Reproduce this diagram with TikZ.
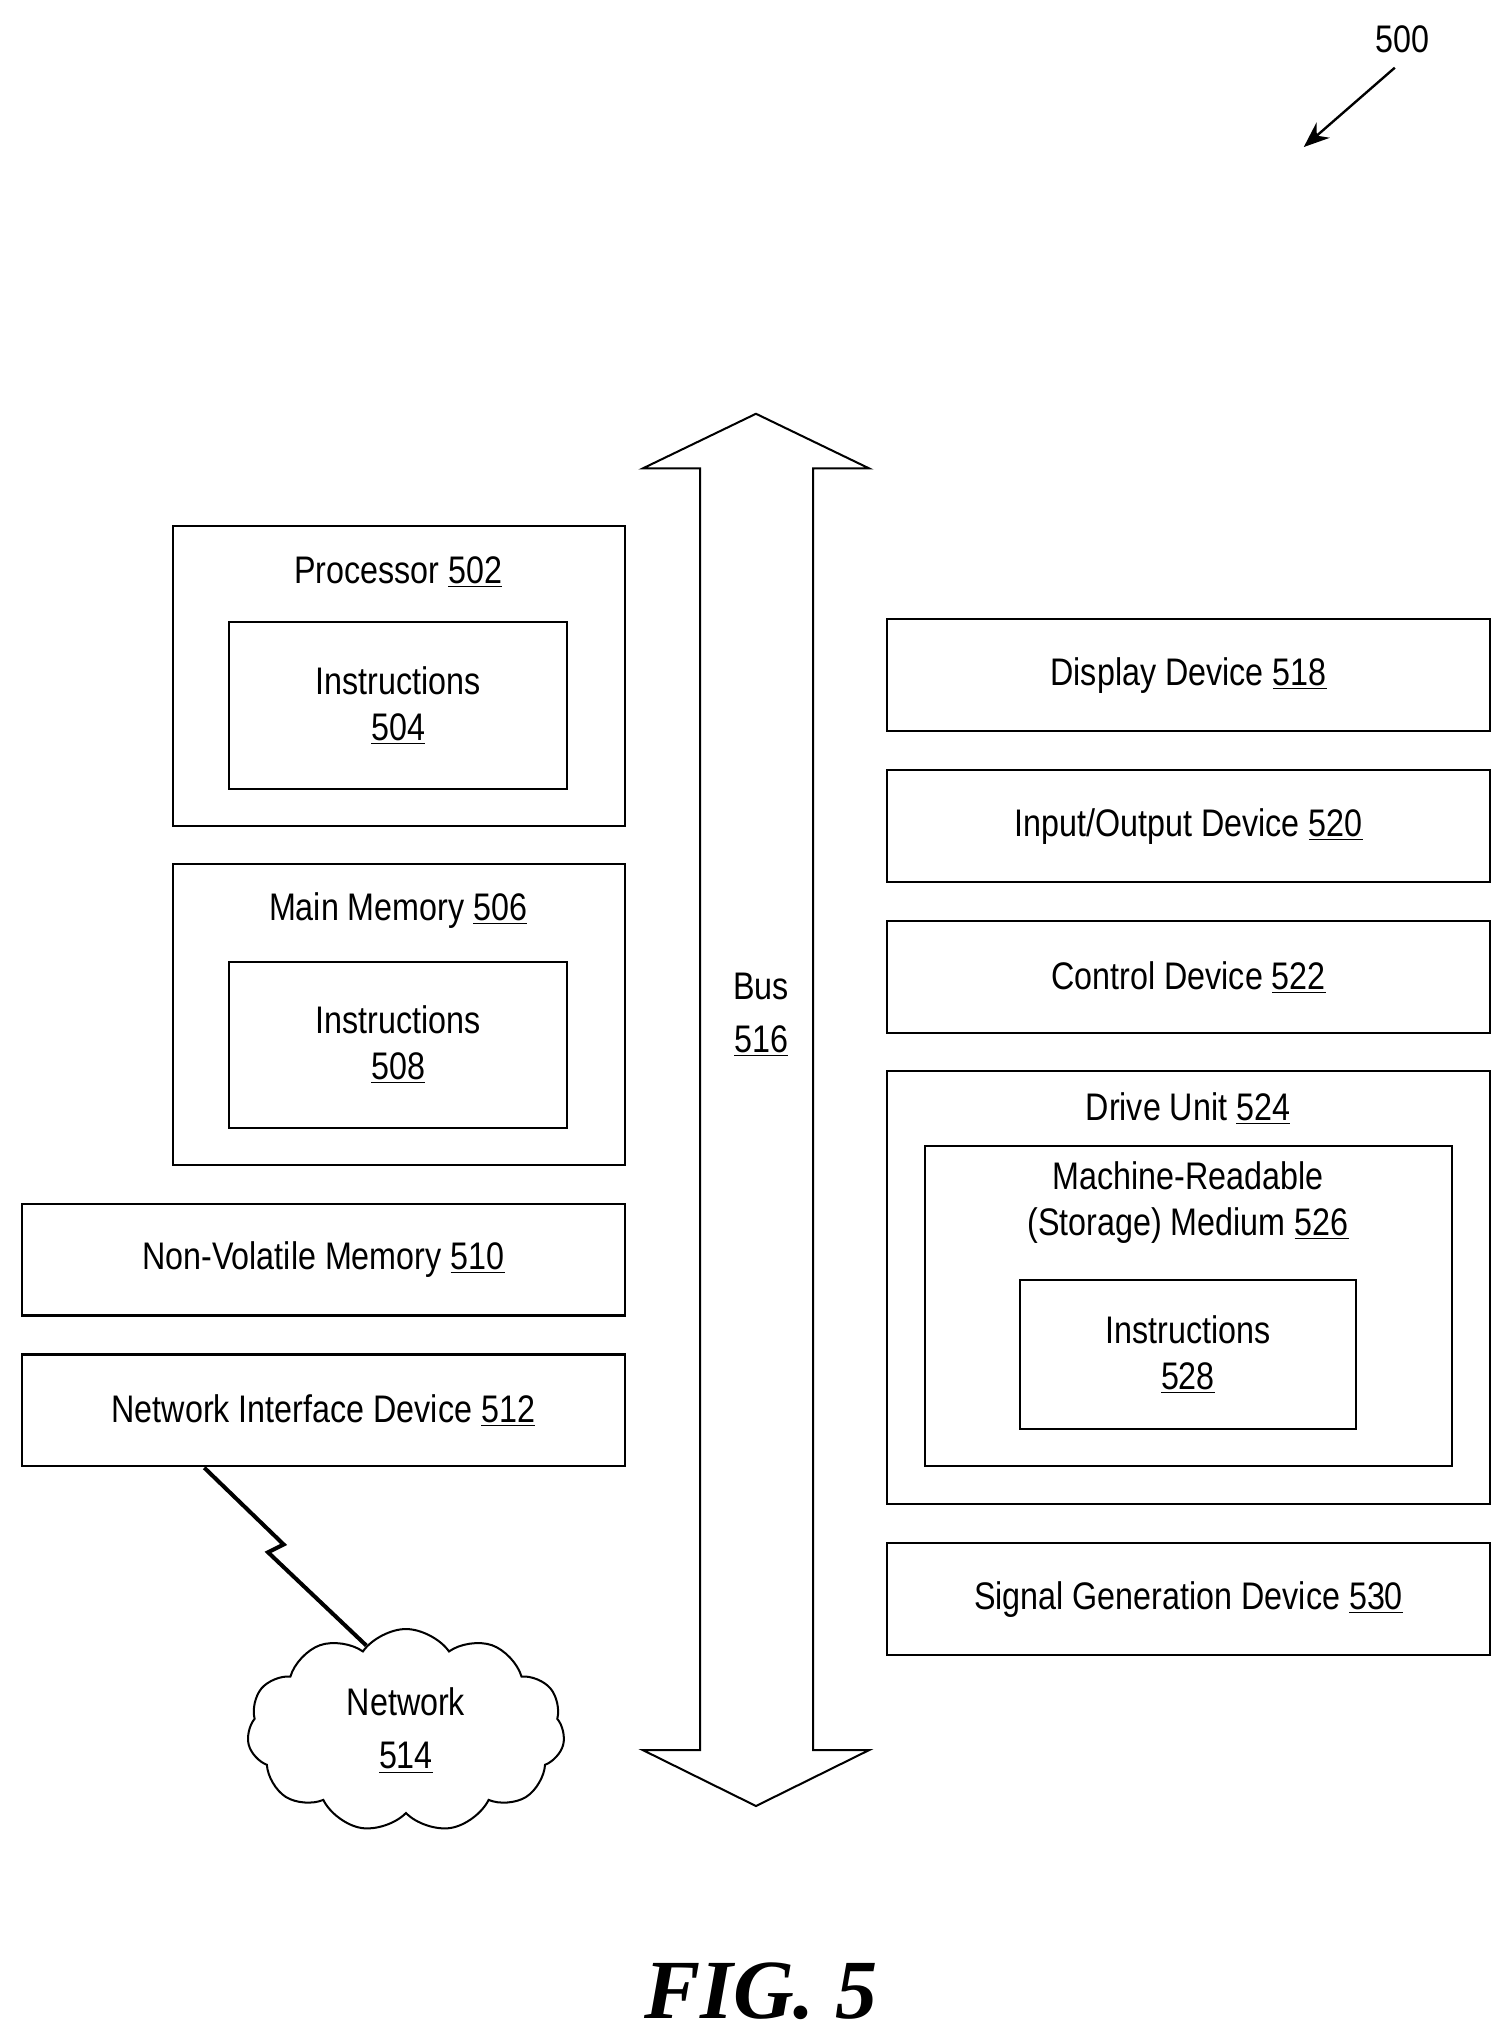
\documentclass[tikz,border=0pt]{standalone}
\usepackage{fontspec}
\setmainfont[FakeStretch=0.84]{Liberation Sans}
\newfontfamily\figfont{Liberation Serif}
\usetikzlibrary{shapes.symbols,arrows.meta}
\begin{document}
\begin{tikzpicture}[x=0.025cm, y=-0.025cm, line width=1.1pt,
    box/.style={draw, inner sep=0pt},
    lbl/.style={font=\fontsize{21}{25}\selectfont, align=center, inner sep=0pt}]
   \useasboundingbox (0,0) rectangle (1160,1564);
   % figure number
   \node[lbl] (ref) at (1078,30) {500};
   \coordinate (refend) at (1002,113);
   \draw[-{Stealth[length=14pt,width=11pt]}, line width=1.3pt] (1072,52) -- (refend);
   % bus
   \draw (538,360) -- (494,360) -- (581,318) -- (668,360) -- (625,360) -- (625,1345)
      -- (668,1345) -- (581,1388) -- (494,1345) -- (538,1345) -- cycle;
   \node[lbl] (bus) at (585,780) {Bus\\[4pt]\underline{516}};
   % left column
   \node[box, minimum width=8.675cm, minimum height=5.775cm] (proc) at (306.5,519.5) {};
   \node[lbl] (proclbl) at (306,440) {Processor \underline{502}};
   \node[box, minimum width=6.5cm, minimum height=3.2cm] (instA) at (306,542) {};
   \node[lbl] at (instA) {Instructions\\\underline{504}};
   \node[box, minimum width=8.675cm, minimum height=5.775cm] (mem) at (306.5,779.5) {};
   \node[lbl] (memlbl) at (306,700) {Main Memory \underline{506}};
   \node[box, minimum width=6.5cm, minimum height=3.2cm] (instB) at (306,803) {};
   \node[lbl] at (instB) {Instructions\\\underline{508}};
   \node[box, lbl, minimum width=11.575cm, minimum height=2.15cm] (nvm) at (248.5,968) {Non-Volatile Memory \underline{510}};
   \node[box, lbl, minimum width=11.575cm, minimum height=2.15cm] (nid) at (248.5,1084) {Network Interface Device \underline{512}};
   % network
   \node[cloud, draw, cloud puffs=11, cloud puff arc=110, aspect=1.5,
         minimum width=6.1cm, minimum height=3.9cm, lbl] (net) at (312,1330) {Network\\[4pt]\underline{514}};
   \coordinate (z1) at (218,1187);
   \coordinate (z2) at (206,1193);
   \draw[line width=2.2pt] (157,1128) -- (z1) -- (z2) -- (net.115);
   % right column
   \node[box, lbl, minimum width=11.575cm, minimum height=2.15cm] (disp) at (913.5,519) {Display Device \underline{518}};
   \node[box, lbl, minimum width=11.575cm, minimum height=2.15cm] (io) at (913.5,635) {Input/Output Device \underline{520}};
   \node[box, lbl, minimum width=11.575cm, minimum height=2.15cm] (ctrl) at (913.5,751) {Control Device \underline{522}};
   \node[box, minimum width=11.575cm, minimum height=8.325cm] (drive) at (913.5,989.5) {};
   \node[lbl] (drivelbl) at (913,852) {Drive Unit \underline{524}};
   \node[box, minimum width=10.125cm, minimum height=6.15cm] (mrm) at (913.5,1004) {};
   \node[lbl] (mrmlbl) at (913,924) {Machine-Readable\\(Storage) Medium \underline{526}};
   \node[box, minimum width=6.45cm, minimum height=2.85cm] (instC) at (913,1041) {};
   \node[lbl] at (instC) {Instructions\\\underline{528}};
   \node[box, lbl, minimum width=11.575cm, minimum height=2.15cm] (sig) at (913.5,1229) {Signal Generation Device \underline{530}};
   % caption
   \node[font=\figfont\bfseries\itshape\fontsize{46}{50}\selectfont] (fig) at (585,1530) {FIG. 5};
\end{tikzpicture}
\end{document}
